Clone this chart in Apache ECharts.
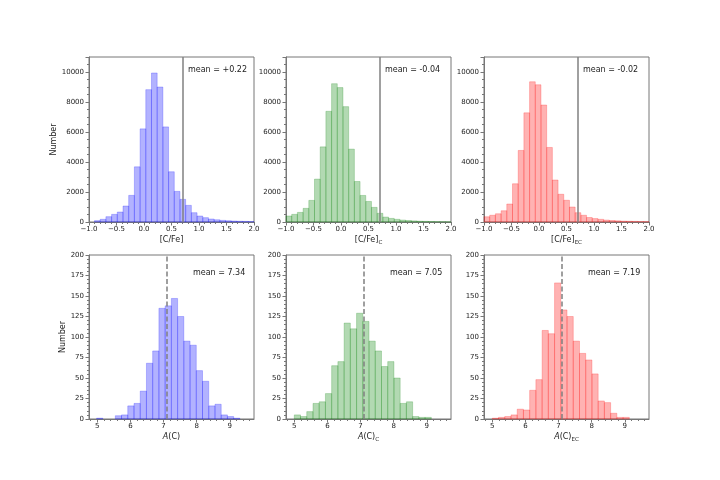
<!DOCTYPE html>
<html>
<head>
<meta charset="utf-8">
<script src="https://cdn.jsdelivr.net/npm/echarts@6/dist/echarts.min.js"></script>
<style>
html, body { margin: 0; padding: 0; background: #fff; }
#main { width: 720px; height: 480px; }
</style>
</head>
<body>
<div id="main"></div>
<script>
// [C/Fe] histograms, bins of ~0.104 dex
const cfeBinWidth = 0.1036;
const cfeBinStart = [-0.9, -1.0, -1.0];
const cfeAll = [90, 180, 355, 510, 665, 1065, 1775, 3680, 6210, 8825, 9935, 9000, 6340, 3350, 2040,
                1510, 1110, 620, 400, 290, 200, 150, 110, 85, 65, 50, 40, 30];
const cfeC = [400, 510, 640, 910, 1440, 2860, 5010, 7380, 9220, 8960, 7690, 4860, 2700, 1770, 1370,
              975, 580, 330, 240, 180, 130, 100, 75, 55, 45, 35, 25, 20, 15];
const cfeEC = [350, 450, 550, 750, 1200, 2550, 4770, 7280, 9350, 9150, 7800, 4970, 2800, 1850, 1450,
               1000, 620, 450, 300, 230, 180, 130, 100, 80, 60, 50, 40, 30, 25];

// A(C) histograms, bins of ~0.19 dex
const acBinWidth = 0.188;
const acBinStart = [4.98, 5.0, 5.0];
const acAll = [1, 0, 0, 4, 5, 16, 19, 34, 68, 83, 135, 138, 147, 125, 95, 90, 59, 46, 16, 18, 5, 3, 1, 0];
const acC = [5, 3, 9, 19, 21, 31, 65, 70, 117, 110, 129, 119, 95, 83, 64, 70, 50, 19, 21, 3, 2, 2];
const acEC = [1, 2, 3, 5, 12, 11, 35, 48, 108, 104, 166, 133, 125, 95, 80, 72, 55, 22, 20, 7, 2, 2];

const acTicks = [5, 6, 7, 8, 9];
const acMinorTicks = [4.8, 5.2, 5.4, 5.6, 5.8, 6.2, 6.4, 6.6, 6.8, 7.2, 7.4, 7.6, 7.8,
                      8.2, 8.4, 8.6, 8.8, 9.2, 9.4, 9.6];

const cfeNames = ['[C/Fe]', '[C/Fe]{sub|C}', '[C/Fe]{sub|EC}'];
const acNames = ['{it|A}(C)', '{it|A}(C){sub|C}', '{it|A}(C){sub|EC}'];
const meanTop = ['mean = +0.22', 'mean = -0.04', 'mean = -0.02'];
const meanBottom = ['mean = 7.34', 'mean = 7.05', 'mean = 7.19'];
const cfeCut = 0.7;
const acCut = 7.1;

const fills = ['rgba(0,0,255,0.3)', 'rgba(0,128,0,0.3)', 'rgba(255,0,0,0.3)'];
const edges = ['rgba(0,0,255,0.22)', 'rgba(0,128,0,0.22)', 'rgba(255,0,0,0.22)'];

const FONT = '"DejaVu Sans", sans-serif';
const colLeft = [89, 286, 484];
const rowTop = [57, 255];
const rowHeight = [165, 164];
const W = 165;
const spine = '#777';
const txt = '#222';

function bins(start, width, counts) {
    return counts.map(function (c, i) {
        return [start + i * width, start + (i + 1) * width, c];
    });
}

function histRender(fill, edge) {
    return function (params, api) {
        const n = api.value(2);
        if (!n) return null;
        const p0 = api.coord([api.value(0), 0]);
        const p1 = api.coord([api.value(1), n]);
        const cs = params.coordSys;
        const shape = echarts.graphic.clipRectByRect(
            {x: p0[0], y: p1[1], width: p1[0] - p0[0], height: p0[1] - p1[1]},
            {x: cs.x, y: cs.y, width: cs.width, height: cs.height}
        );
        return shape && {
            type: 'rect',
            shape: shape,
            style: {fill: fill, stroke: edge, lineWidth: 1}
        };
    };
}

const nameRich = {
    it: {fontStyle: 'italic', fontSize: 8, fontFamily: FONT, color: txt, lineHeight: 12},
    sub: {fontSize: 5.5, fontFamily: FONT, color: txt, verticalAlign: 'bottom', lineHeight: 12}
};

let grids = [], xAxes = [], yAxes = [], series = [], graphics = [];

for (let r = 0; r < 2; r++) {
    for (let c = 0; c < 3; c++) {
        const i = r * 3 + c;
        const top = r === 0;
        grids.push({
            left: colLeft[c], top: rowTop[r], width: W, height: rowHeight[r],
            show: true, borderColor: spine, borderWidth: 1, backgroundColor: 'transparent'
        });

        const tickStyle = {color: spine, width: 1};
        let xa = {
            type: 'value', gridIndex: i,
            axisLine: {show: true, onZero: false, lineStyle: {color: spine, width: 1}},
            splitLine: {show: false},
            name: top ? cfeNames[c] : acNames[c],
            nameLocation: 'middle',
            nameGap: top ? 10 : 11,
            nameTextStyle: {fontSize: 8, fontFamily: FONT, color: txt, lineHeight: 12, rich: nameRich},
            axisLabel: {fontSize: 7, fontFamily: FONT, color: txt, margin: 4}
        };
        if (top) {
            xa.min = -1; xa.max = 2; xa.interval = 0.5;
            xa.axisTick = {show: true, length: 3.5, lineStyle: tickStyle};
            xa.minorTick = {show: true, splitNumber: 5, length: 2, lineStyle: tickStyle};
            xa.axisLabel.formatter = function (v) {
                return (v < 0 ? '\u2212' : '') + Math.abs(v).toFixed(1);
            };
        } else {
            xa.min = 4.75; xa.max = 9.73;
            xa.axisTick = {show: true, length: 3.5, lineStyle: tickStyle, customValues: acTicks};
            xa.axisLabel.customValues = acTicks;
        }
        xAxes.push(xa);

        yAxes.push({
            type: 'value', gridIndex: i,
            min: 0, max: top ? 11000 : 200, interval: top ? 2000 : 25,
            axisLine: {show: true, onZero: false, lineStyle: {color: spine, width: 1}},
            axisTick: {show: true, length: 3.5, lineStyle: tickStyle},
            minorTick: {show: true, splitNumber: top ? 4 : 5, length: 2, lineStyle: tickStyle},
            splitLine: {show: false},
            axisLabel: {
                fontSize: 7, fontFamily: FONT, color: txt, margin: 5, showMaxLabel: !top,
                formatter: function (v) { return String(v); }
            },
            name: c === 0 ? 'Number' : '',
            nameLocation: 'middle',
            nameGap: top ? 30 : 22,
            nameTextStyle: {fontSize: 8, fontFamily: FONT, color: txt}
        });

        const counts = top ? [cfeAll, cfeC, cfeEC][c] : [acAll, acC, acEC][c];
        const data = top ? bins(cfeBinStart[c], cfeBinWidth, counts) : bins(acBinStart[c], acBinWidth, counts);
        series.push({
            type: 'custom',
            xAxisIndex: i, yAxisIndex: i,
            renderItem: histRender(fills[c], edges[c]),
            encode: {x: [0, 1], y: 2},
            data: data,
            silent: true,
            markLine: {
                silent: true,
                symbol: ['none', 'none'],
                label: {show: false},
                lineStyle: {color: '#808080', width: 1.5, type: top ? 'solid' : [5, 2.5]},
                data: [{xAxis: top ? cfeCut : acCut}]
            }
        });

        graphics.push({
            type: 'text',
            x: colLeft[c] + (top ? 0.6 : 0.63) * W,
            y: rowTop[r] + (top ? 13 : 18),
            style: {
                text: top ? meanTop[c] : meanBottom[c],
                fontSize: 8, fontFamily: FONT, fill: txt,
                align: 'left', verticalAlign: 'middle'
            }
        });
    }
}

// minor ticks on the A(C) axes
for (let c = 0; c < 3; c++) {
    xAxes.push({
        type: 'value', gridIndex: 3 + c, position: 'bottom',
        min: 4.75, max: 9.73,
        axisLine: {show: false, onZero: false},
        axisLabel: {show: false},
        splitLine: {show: false},
        axisTick: {show: true, length: 2, customValues: acMinorTicks, lineStyle: {color: spine, width: 1}}
    });
}

let myChart = echarts.init(document.getElementById('main'), null, {renderer: 'canvas'});
myChart.setOption({
    animation: false,
    backgroundColor: '#fff',
    grid: grids,
    xAxis: xAxes,
    yAxis: yAxes,
    series: series,
    graphic: graphics
});
</script>
</body>
</html>
